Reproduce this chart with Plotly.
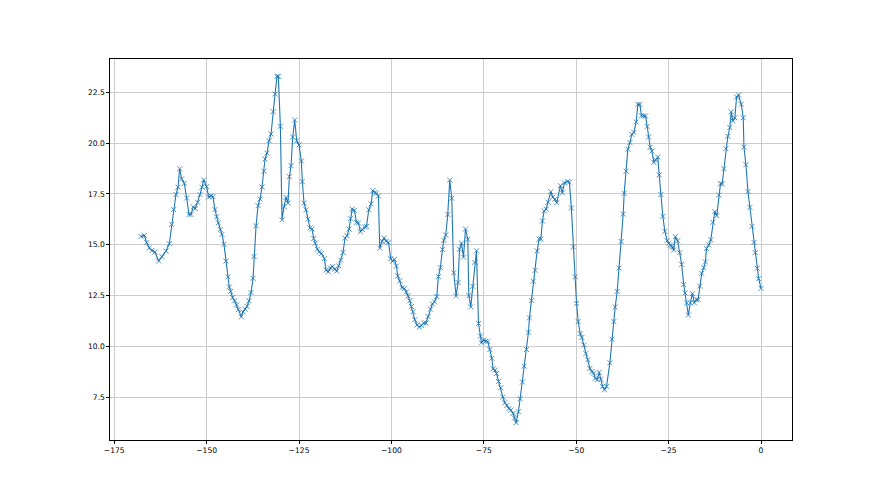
import plotly.graph_objects as go

x_vals = [
    -167.76, -166.86, -166.23, -165.51, -164.79, -163.98, -162.98, -162.08, -161.0, -160.1,
    -159.47, -158.93, -158.3, -157.75, -157.3, -156.76, -156.04, -155.41, -154.78, -154.24,
    -153.6, -153.07, -152.43, -151.8, -151.26, -150.8, -150.0, -149.46, -148.83, -148.29,
    -147.75, -147.3, -146.84, -146.3, -145.85, -145.31, -144.77, -144.23, -143.87, -143.5,
    -142.97, -142.43, -141.88, -141.43, -140.62, -140.15, -139.61, -139.07, -138.53, -137.98,
    -137.44, -137.17, -136.63, -136.09, -135.55, -135.01, -134.47, -134.2, -133.66, -133.12,
    -132.57, -132.03, -131.49, -130.95, -130.59, -130.05, -129.6, -129.06, -128.52, -127.98,
    -127.61, -127.16, -126.71, -126.17, -125.63, -125.0, -124.37, -124.1, -123.65, -123.11,
    -122.57, -122.03, -121.48, -121.03, -120.58, -120.04, -119.5, -118.96, -118.15, -117.7,
    -117.07, -116.52, -115.98, -115.35, -114.81, -114.27, -113.73, -113.1, -112.56, -112.02,
    -111.45, -111.09, -110.64, -110.01, -109.47, -108.93, -108.39, -107.84, -107.21, -106.76,
    -106.13, -105.5, -105.05, -104.51, -104.06, -103.52, -103.16, -102.52, -101.98, -101.44,
    -100.81, -100.18, -99.64, -99.19, -98.65, -98.29, -97.75, -97.11, -96.48, -95.94,
    -95.49, -95.04, -94.59, -94.14, -93.69, -93.06, -92.43, -91.88, -91.25, -90.62,
    -90.08, -89.45, -88.91, -88.37, -87.74, -87.29, -86.74, -86.2, -85.84, -85.3,
    -84.76, -84.22, -83.68, -83.14, -82.51, -81.97, -81.58, -81.04, -80.5, -79.96,
    -79.33, -79.06, -78.52, -77.98, -77.43, -76.98, -76.44, -75.9, -75.63, -75.09,
    -74.46, -73.92, -73.38, -72.84, -72.48, -72.02, -71.57, -71.03, -70.4, -69.86,
    -69.32, -68.78, -68.24, -67.7, -67.06, -66.7, -66.25, -65.62, -65.17, -64.54,
    -64.09, -63.46, -62.92, -62.65, -62.11, -61.65, -61.11, -60.57, -60.03, -59.58,
    -59.13, -58.68, -58.14, -57.6, -56.88, -56.33, -55.79, -55.25, -54.29, -53.75,
    -53.2, -52.39, -51.85, -51.31, -50.77, -50.27, -49.91, -49.46, -48.92, -48.47,
    -47.93, -47.39, -46.84, -46.3, -45.76, -45.31, -44.86, -44.32, -43.78, -43.33,
    -42.88, -42.34, -41.79, -40.89, -40.35, -39.81, -39.45, -38.91, -38.37, -37.83,
    -37.29, -37.02, -36.48, -36.03, -35.48, -34.94, -34.4, -33.77, -33.32, -32.78,
    -32.33, -31.79, -31.24, -30.79, -30.43, -29.98, -29.53, -28.99, -28.54, -27.91,
    -27.55, -27.1, -26.56, -26.01, -25.38, -24.93, -24.55, -24.18, -23.91, -23.64,
    -23.19, -22.55, -22.01, -21.47, -20.92, -20.56, -20.11, -19.66, -19.11, -18.57,
    -18.03, -17.48, -17.03, -16.58, -16.03, -15.49, -15.04, -14.76, -14.13, -13.59,
    -13.04, -12.5, -11.96, -11.41, -10.96, -10.51, -10.05, -9.51, -8.97, -8.42,
    -8.06, -7.61, -7.07, -6.61, -6.07, -5.34, -4.8, -4.62, -4.08, -3.53,
    -2.99, -2.45, -1.9, -1.54, -1.0, -0.63, 0.0,
]

y_vals = [
    15.41, 15.46, 15.10, 14.84, 14.71, 14.64, 14.20, 14.41, 14.69, 15.05,
    16.0, 16.73, 17.47, 17.83, 18.74, 18.24, 18.02, 17.30, 16.49, 16.49,
    16.86, 16.78, 17.09, 17.47, 17.83, 18.19, 17.86, 17.35, 17.40, 17.37,
    16.73, 16.37, 16.08, 15.75, 15.51, 15.02, 14.2, 13.42, 12.92, 12.7,
    12.4, 12.24, 12.04, 11.81, 11.45, 11.70, 11.83, 11.96, 12.24, 12.65,
    13.35, 14.42, 15.93, 16.92, 17.25, 17.84, 18.62, 19.22, 19.51, 20.12,
    20.45, 21.55, 22.42, 23.29, 23.29, 20.83, 16.23, 16.88, 17.33, 17.05,
    18.35, 18.89, 20.30, 21.14, 20.12, 19.91, 19.12, 18.10, 17.05, 16.72,
    16.26, 15.83, 15.77, 15.31, 15.08, 14.78, 14.65, 14.57, 14.32, 13.75,
    13.67, 13.86, 13.93, 13.80, 13.70, 13.96, 14.24, 14.62, 15.32, 15.44,
    15.77, 16.28, 16.75, 16.69, 16.10, 16.07, 15.64, 15.74, 15.87, 15.90,
    16.72, 17.01, 17.66, 17.57, 17.53, 17.40, 14.83, 15.17, 15.33, 15.17,
    15.12, 14.31, 14.19, 14.28, 13.95, 13.46, 13.22, 12.89, 12.84, 12.68,
    12.48, 12.24, 11.96, 11.70, 11.31, 11.05, 10.94, 11.02, 11.15, 11.15,
    11.47, 11.83, 12.09, 12.19, 12.45, 13.43, 13.87, 14.76, 15.22, 15.48,
    16.49, 18.18, 17.29, 13.62, 12.48, 13.14, 14.78, 15.08, 14.39, 15.77,
    15.27, 12.49, 11.94, 12.95, 14.13, 14.70, 11.12, 10.50, 10.17, 10.30,
    10.25, 10.23, 9.84, 9.41, 8.89, 8.83, 8.66, 8.27, 7.96, 7.50,
    7.22, 7.09, 6.93, 6.86, 6.70, 6.47, 6.24, 6.78, 7.42, 8.24,
    9.02, 9.84, 10.69, 11.40, 12.26, 13.20, 13.74, 14.70, 15.27, 15.29,
    16.17, 16.67, 16.75, 17.09, 17.61, 17.34, 17.24, 17.07, 17.91, 17.55,
    18.05, 18.11, 18.08, 16.81, 14.89, 13.42, 12.11, 11.22, 10.63, 10.43,
    10.07, 9.64, 9.34, 8.91, 8.75, 8.68, 8.42, 8.36, 8.72, 8.37,
    8.03, 7.86, 8.03, 9.19, 10.35, 11.22, 11.94, 12.70, 13.85, 15.16,
    16.51, 17.53, 18.62, 19.70, 20.03, 20.43, 20.53, 21.04, 21.91, 21.91,
    21.35, 21.35, 21.33, 20.82, 20.30, 19.80, 19.61, 19.05, 19.18, 19.31,
    18.44, 17.47, 16.40, 15.66, 15.20, 15.07, 14.98, 14.94, 14.86, 14.74,
    15.40, 15.19, 14.61, 14.03, 13.04, 12.63, 12.14, 11.54, 12.14, 12.60,
    12.14, 12.30, 12.30, 12.96, 13.59, 13.87, 14.15, 14.81, 14.99, 15.24,
    16.10, 16.63, 16.43, 17.45, 18.0, 18.0, 18.74, 19.73, 20.34, 20.77,
    21.54, 21.10, 21.25, 22.27, 22.37, 21.92, 21.25, 19.81, 18.94, 17.62,
    16.84, 15.90, 15.11, 14.61, 13.84, 13.33, 12.85,
]

x_ticks = [-175, -150, -125, -100, -75, -50, -25, 0]
x_tick_labels = ["\u2212175", "\u2212150", "\u2212125", "\u2212100", "\u221275", "\u221250", "\u221225", "0"]
y_ticks = [7.5, 10.0, 12.5, 15.0, 17.5, 20.0, 22.5]
y_tick_labels = ["7.5", "10.0", "12.5", "15.0", "17.5", "20.0", "22.5"]

color = "#1f77b4"

fig = go.Figure()
fig.add_trace(go.Scatter(
    x=x_vals, y=y_vals, mode="lines+markers",
    line=dict(color=color, width=1.1),
    marker=dict(symbol="x-thin", size=5, color=color, line=dict(width=0.8, color=color)),
    showlegend=False,
))

xr = max(x_vals) - min(x_vals)
yr = max(y_vals) - min(y_vals)

axis_common = dict(
    showline=True, mirror=True, linecolor="#000000", linewidth=0.8,
    ticks="outside", ticklen=2.7, tickwidth=0.6, tickcolor="#000000",
    showgrid=True, gridcolor="#cccccc", gridwidth=0.7, zeroline=False,
    tickfont=dict(family="DejaVu Sans", size=7.6, color="#000000"),
)

fig.update_xaxes(
    range=[min(x_vals) - 0.05 * xr, max(x_vals) + 0.05 * xr],
    tickmode="array", tickvals=x_ticks, ticktext=x_tick_labels,
    **axis_common,
)
fig.update_yaxes(
    range=[min(y_vals) - 0.05 * yr, max(y_vals) + 0.05 * yr],
    tickmode="array", tickvals=y_ticks, ticktext=y_tick_labels,
    **axis_common,
)

fig.update_layout(
    width=880, height=495,
    margin=dict(l=102, r=96, t=51.4, b=62.5, pad=0),
    paper_bgcolor="#ffffff", plot_bgcolor="#ffffff",
    font=dict(family="DejaVu Sans", size=7.6, color="#000000"),
)

fig.write_html("out.html")
